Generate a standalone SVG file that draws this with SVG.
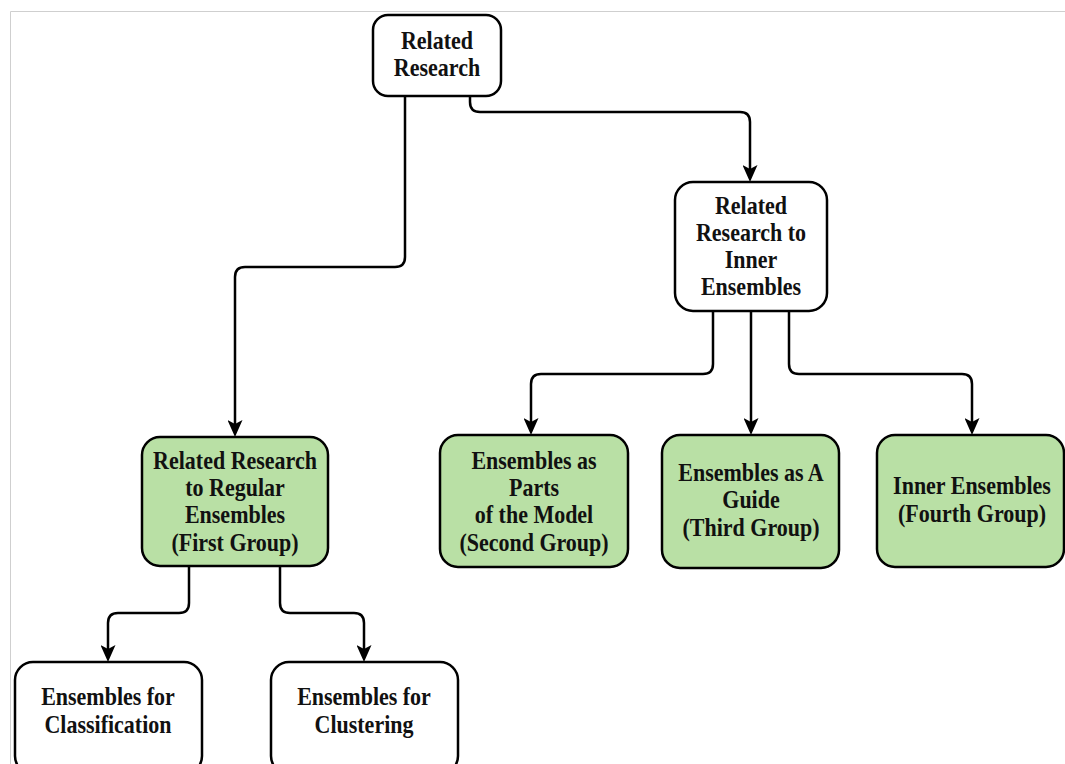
<svg xmlns="http://www.w3.org/2000/svg" width="1065" height="764" viewBox="0 0 1065 764">
  <defs>
    <!-- classic notched arrowhead; tip sits 10px past the path end -->
    <marker id="arrow" viewBox="0 0 17 15" markerWidth="17" markerHeight="15" refX="7" refY="7.5" orient="auto" markerUnits="userSpaceOnUse">
      <path d="M0,0 L17,7.5 L0,15 L4,7.5 z" fill="#000"/>
    </marker>
    <style>
      .box { fill: #ffffff; stroke: #000; stroke-width: 2.5; }
      .green { fill: #b9e0a5; }
      .lbl { font-family: "Liberation Serif", "Times New Roman", serif; font-weight: bold; font-size: 22px; fill: #111; text-anchor: middle; }
      .edge { fill: none; stroke: #000; stroke-width: 2.5; marker-end: url(#arrow); }
      .frame { fill: none; stroke: #cfcfcf; stroke-width: 1; }
    </style>
  </defs>

  <rect width="1065" height="764" fill="#ffffff"/>
  <path class="frame" d="M10.5,764 V11.5 H1065"/>

  <g id="connectors">
    <path class="edge" d="M405,96 V257 Q405,267 395,267 H245 Q235,267 235,277 V427"/>
    <path class="edge" d="M470,96 V102 Q470,112 480,112 H740 Q750,112 750,122 V172"/>
    <path class="edge" d="M713,311 V364 Q713,374 703,374 H541 Q531,374 531,384 V425"/>
    <path class="edge" d="M751,311 V425"/>
    <path class="edge" d="M789,311 V364 Q789,374 799,374 H962 Q972,374 972,384 V425"/>
    <path class="edge" d="M189,566 V603 Q189,613 179,613 H118 Q108,613 108,623 V652"/>
    <path class="edge" d="M280,566 V603 Q280,613 290,613 H354 Q364,613 364,623 V652"/>
  </g>

  <g id="related-research">
    <rect class="box" x="373" y="15" width="128" height="81" rx="15"/>
    <text class="lbl" transform="translate(437,49) scale(1,1.1)">Related</text>
    <text class="lbl" transform="translate(437,76) scale(1,1.1)">Research</text>
  </g>

  <g id="inner-ensembles">
    <rect class="box" x="675" y="182" width="152" height="129" rx="18"/>
    <text class="lbl" transform="translate(751,214) scale(1,1.1)">Related</text>
    <text class="lbl" transform="translate(751,241) scale(1,1.1)">Research to</text>
    <text class="lbl" transform="translate(751,268) scale(1,1.1)">Inner</text>
    <text class="lbl" transform="translate(751,295) scale(1,1.1)">Ensembles</text>
  </g>

  <g id="first-group">
    <rect class="box green" x="142" y="437" width="186" height="129" rx="18"/>
    <text class="lbl" transform="translate(235,469) scale(1,1.1)">Related Research</text>
    <text class="lbl" transform="translate(235,496) scale(1,1.1)">to Regular</text>
    <text class="lbl" transform="translate(235,523) scale(1,1.1)">Ensembles</text>
    <text class="lbl" transform="translate(235,551) scale(1,1.1)">(First Group)</text>
  </g>

  <g id="second-group">
    <rect class="box green" x="440" y="435" width="188" height="132" rx="18"/>
    <text class="lbl" transform="translate(534,469) scale(1,1.1)">Ensembles as</text>
    <text class="lbl" transform="translate(534,496) scale(1,1.1)">Parts</text>
    <text class="lbl" transform="translate(534,523) scale(1,1.1)">of the Model</text>
    <text class="lbl" transform="translate(534,551) scale(1,1.1)">(Second Group)</text>
  </g>

  <g id="third-group">
    <rect class="box green" x="662" y="435" width="177" height="133" rx="18"/>
    <text class="lbl" transform="translate(751,481) scale(1,1.1)">Ensembles as A</text>
    <text class="lbl" transform="translate(751,508) scale(1,1.1)">Guide</text>
    <text class="lbl" transform="translate(751,536) scale(1,1.1)">(Third Group)</text>
  </g>

  <g id="fourth-group">
    <rect class="box green" x="877" y="435" width="187" height="132" rx="18"/>
    <text class="lbl" transform="translate(972,494) scale(1,1.1)">Inner Ensembles</text>
    <text class="lbl" transform="translate(972,522) scale(1,1.1)">(Fourth Group)</text>
  </g>

  <g id="classification">
    <rect class="box" x="15" y="662" width="187" height="112" rx="18"/>
    <text class="lbl" transform="translate(108,705) scale(1,1.1)">Ensembles for</text>
    <text class="lbl" transform="translate(108,733) scale(1,1.1)">Classification</text>
  </g>

  <g id="clustering">
    <rect class="box" x="271" y="662" width="187" height="112" rx="18"/>
    <text class="lbl" transform="translate(364,705) scale(1,1.1)">Ensembles for</text>
    <text class="lbl" transform="translate(364,733) scale(1,1.1)">Clustering</text>
  </g>
</svg>
